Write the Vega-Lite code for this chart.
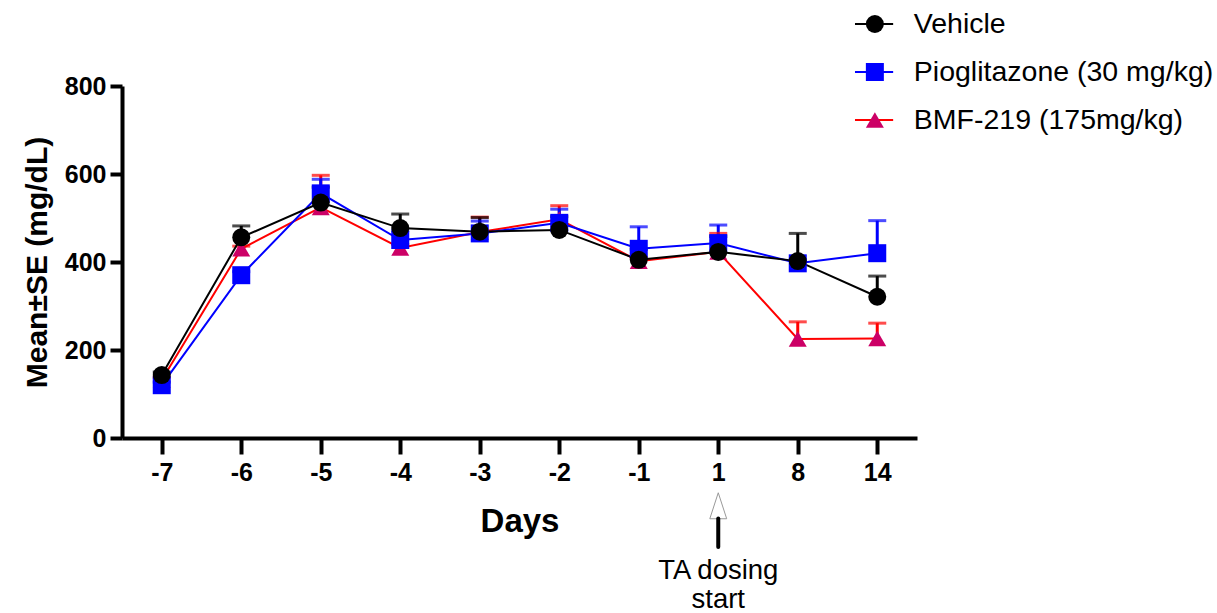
{
  "$schema": "https://vega.github.io/schema/vega-lite/v6.json",
  "width": 795,
  "height": 352,
  "autosize": {"type": "none"},
  "padding": {"left": 122, "top": 86, "right": 300, "bottom": 175},
  "background": "white",
  "config": {"view": {"stroke": null}, "font": "Liberation Sans"},
  "datasets": {
    "stats": [
      {"day": "-7", "series": "BMF-219 (175mg/kg)", "mean": 132, "upper": 138},
      {"day": "-6", "series": "BMF-219 (175mg/kg)", "mean": 430, "upper": 436},
      {"day": "-5", "series": "BMF-219 (175mg/kg)", "mean": 524, "upper": 597},
      {"day": "-4", "series": "BMF-219 (175mg/kg)", "mean": 432, "upper": 440},
      {"day": "-3", "series": "BMF-219 (175mg/kg)", "mean": 468, "upper": 502},
      {"day": "-2", "series": "BMF-219 (175mg/kg)", "mean": 497, "upper": 528},
      {"day": "-1", "series": "BMF-219 (175mg/kg)", "mean": 402, "upper": 410},
      {"day": "1", "series": "BMF-219 (175mg/kg)", "mean": 423, "upper": 465},
      {"day": "8", "series": "BMF-219 (175mg/kg)", "mean": 225, "upper": 264},
      {"day": "14", "series": "BMF-219 (175mg/kg)", "mean": 226, "upper": 261},
      {"day": "-7", "series": "Pioglitazone (30 mg/kg)", "mean": 120, "upper": 127},
      {"day": "-6", "series": "Pioglitazone (30 mg/kg)", "mean": 370, "upper": 378},
      {"day": "-5", "series": "Pioglitazone (30 mg/kg)", "mean": 556, "upper": 588},
      {"day": "-4", "series": "Pioglitazone (30 mg/kg)", "mean": 450, "upper": 472},
      {"day": "-3", "series": "Pioglitazone (30 mg/kg)", "mean": 465, "upper": 493},
      {"day": "-2", "series": "Pioglitazone (30 mg/kg)", "mean": 489, "upper": 520},
      {"day": "-1", "series": "Pioglitazone (30 mg/kg)", "mean": 430, "upper": 480},
      {"day": "1", "series": "Pioglitazone (30 mg/kg)", "mean": 443, "upper": 484},
      {"day": "8", "series": "Pioglitazone (30 mg/kg)", "mean": 397, "upper": 405},
      {"day": "14", "series": "Pioglitazone (30 mg/kg)", "mean": 420, "upper": 494},
      {"day": "-7", "series": "Vehicle", "mean": 143, "upper": 150},
      {"day": "-6", "series": "Vehicle", "mean": 456, "upper": 482},
      {"day": "-5", "series": "Vehicle", "mean": 535, "upper": 570},
      {"day": "-4", "series": "Vehicle", "mean": 477, "upper": 509},
      {"day": "-3", "series": "Vehicle", "mean": 469, "upper": 501},
      {"day": "-2", "series": "Vehicle", "mean": 473, "upper": 503},
      {"day": "-1", "series": "Vehicle", "mean": 405, "upper": 429},
      {"day": "1", "series": "Vehicle", "mean": 423, "upper": 458},
      {"day": "8", "series": "Vehicle", "mean": 402, "upper": 465},
      {"day": "14", "series": "Vehicle", "mean": 321, "upper": 368}
    ],
    "legend": [
      {"series": "Vehicle"},
      {"series": "Pioglitazone (30 mg/kg)"},
      {"series": "BMF-219 (175mg/kg)"}
    ],
    "note": [
      {"day": "1", "label": "TA dosing\nstart"}
    ]
  },
  "layer": [
    {
      "data": {"name": "stats"},
      "encoding": {
        "x": {
          "field": "day",
          "type": "ordinal",
          "scale": {"type": "point", "domain": ["-7", "-6", "-5", "-4", "-3", "-2", "-1", "1", "8", "14"], "padding": 0.5},
          "axis": {
            "title": "Days",
            "titleFontSize": 33,
            "titleFontWeight": "bold",
            "titleColor": "black",
            "titlePadding": 20,
            "labelAngle": 0,
            "labelFontSize": 25,
            "labelFontWeight": "bold",
            "labelColor": "black",
            "labelPadding": 6,
            "domainColor": "black",
            "domainWidth": 4,
            "tickColor": "black",
            "tickWidth": 4,
            "tickSize": 16,
            "grid": false
          }
        }
      },
      "layer": [
        {
          "mark": {"type": "rule", "strokeWidth": 3},
          "encoding": {
            "y": {"field": "mean", "type": "quantitative"},
            "y2": {"field": "upper"},
            "color": {"field": "series", "type": "nominal", "scale": {"domain": ["Vehicle", "Pioglitazone (30 mg/kg)", "BMF-219 (175mg/kg)"], "range": ["#000000", "#0000FF", "#FF0000"]}, "legend": null}
          }
        },
        {
          "mark": {"type": "tick", "thickness": 3, "size": 18},
          "encoding": {
            "y": {"field": "upper", "type": "quantitative"},
            "color": {"field": "series", "type": "nominal", "legend": null}
          }
        },
        {
          "mark": {"type": "line", "strokeWidth": 2},
          "encoding": {
            "y": {"field": "mean", "type": "quantitative"},
            "color": {"field": "series", "type": "nominal", "legend": null}
          }
        },
        {
          "mark": {"type": "point", "filled": true, "opacity": 1, "size": 324, "strokeWidth": 0},
          "encoding": {
            "y": {
              "field": "mean",
              "type": "quantitative",
              "scale": {"domain": [0, 800], "nice": false},
              "axis": {
                "title": "Mean±SE (mg/dL)",
                "titleFontSize": 30,
                "titleFontWeight": "bold",
                "titleColor": "black",
                "titlePadding": 12,
                "values": [0, 200, 400, 600, 800],
                "labelFontSize": 25,
                "labelFontWeight": "bold",
                "labelColor": "black",
                "labelPadding": 4,
                "domainColor": "black",
                "domainWidth": 4,
                "tickColor": "black",
                "tickWidth": 4,
                "tickSize": 12,
                "grid": false
              }
            },
            "fill": {"field": "series", "type": "nominal", "scale": {"domain": ["Vehicle", "Pioglitazone (30 mg/kg)", "BMF-219 (175mg/kg)"], "range": ["#000000", "#0000FF", "#CC0066"]}, "legend": null},
            "shape": {"field": "series", "type": "nominal", "scale": {"domain": ["Vehicle", "Pioglitazone (30 mg/kg)", "BMF-219 (175mg/kg)"], "range": ["circle", "square", "triangle-up"]}, "legend": null}
          }
        },
        {
          "data": {"name": "note"},
          "mark": {"type": "point", "shape": "M0,-1L0.65,1L-0.65,1Z", "size": 676, "filled": true, "fill": "white", "stroke": "#999999", "strokeWidth": 1, "opacity": 1},
          "encoding": {
            "x": {"field": "day", "type": "ordinal"},
            "y": {"datum": -154}
          }
        },
        {
          "data": {"name": "note"},
          "mark": {"type": "rule", "strokeWidth": 4, "color": "black", "strokeCap": "round"},
          "encoding": {
            "x": {"field": "day", "type": "ordinal"},
            "y": {"datum": -183},
            "y2": {"datum": -248}
          }
        },
        {
          "data": {"name": "note"},
          "mark": {"type": "text", "fontSize": 27.5, "font": "Liberation Sans", "color": "black", "align": "center", "baseline": "middle", "lineBreak": "\n", "lineHeight": 29},
          "encoding": {
            "x": {"field": "day", "type": "ordinal"},
            "y": {"datum": -302},
            "text": {"field": "label"}
          }
        }
      ]
    },
    {
      "data": {"name": "legend"},
      "encoding": {
        "y": {
          "field": "series",
          "type": "nominal",
          "scale": {"type": "point", "domain": ["Vehicle", "Pioglitazone (30 mg/kg)", "BMF-219 (175mg/kg)"], "range": [-62, 34], "padding": 0},
          "axis": null
        }
      },
      "layer": [
        {
          "mark": {"type": "rule", "strokeWidth": 2},
          "encoding": {
            "x": {"datum": 0.922, "type": "quantitative", "scale": {"domain": [0, 1]}, "axis": null},
            "x2": {"datum": 0.970},
            "color": {"field": "series", "type": "nominal", "scale": {"domain": ["Vehicle", "Pioglitazone (30 mg/kg)", "BMF-219 (175mg/kg)"], "range": ["#000000", "#0000FF", "#FF0000"]}, "legend": null}
          }
        },
        {
          "mark": {"type": "point", "filled": true, "opacity": 1, "size": 324, "strokeWidth": 0},
          "encoding": {
            "x": {"datum": 0.947, "type": "quantitative"},
            "fill": {"field": "series", "type": "nominal", "scale": {"domain": ["Vehicle", "Pioglitazone (30 mg/kg)", "BMF-219 (175mg/kg)"], "range": ["#000000", "#0000FF", "#CC0066"]}, "legend": null},
            "shape": {"field": "series", "type": "nominal", "scale": {"domain": ["Vehicle", "Pioglitazone (30 mg/kg)", "BMF-219 (175mg/kg)"], "range": ["circle", "square", "triangle-up"]}, "legend": null}
          }
        },
        {
          "mark": {"type": "text", "fontSize": 28.5, "font": "Liberation Sans", "color": "black", "align": "left", "baseline": "middle"},
          "encoding": {
            "x": {"datum": 0.996, "type": "quantitative"},
            "text": {"field": "series"}
          }
        }
      ]
    }
  ],
  "resolve": {"scale": {"x": "independent", "y": "independent", "color": "independent", "fill": "independent", "shape": "independent"}}
}
